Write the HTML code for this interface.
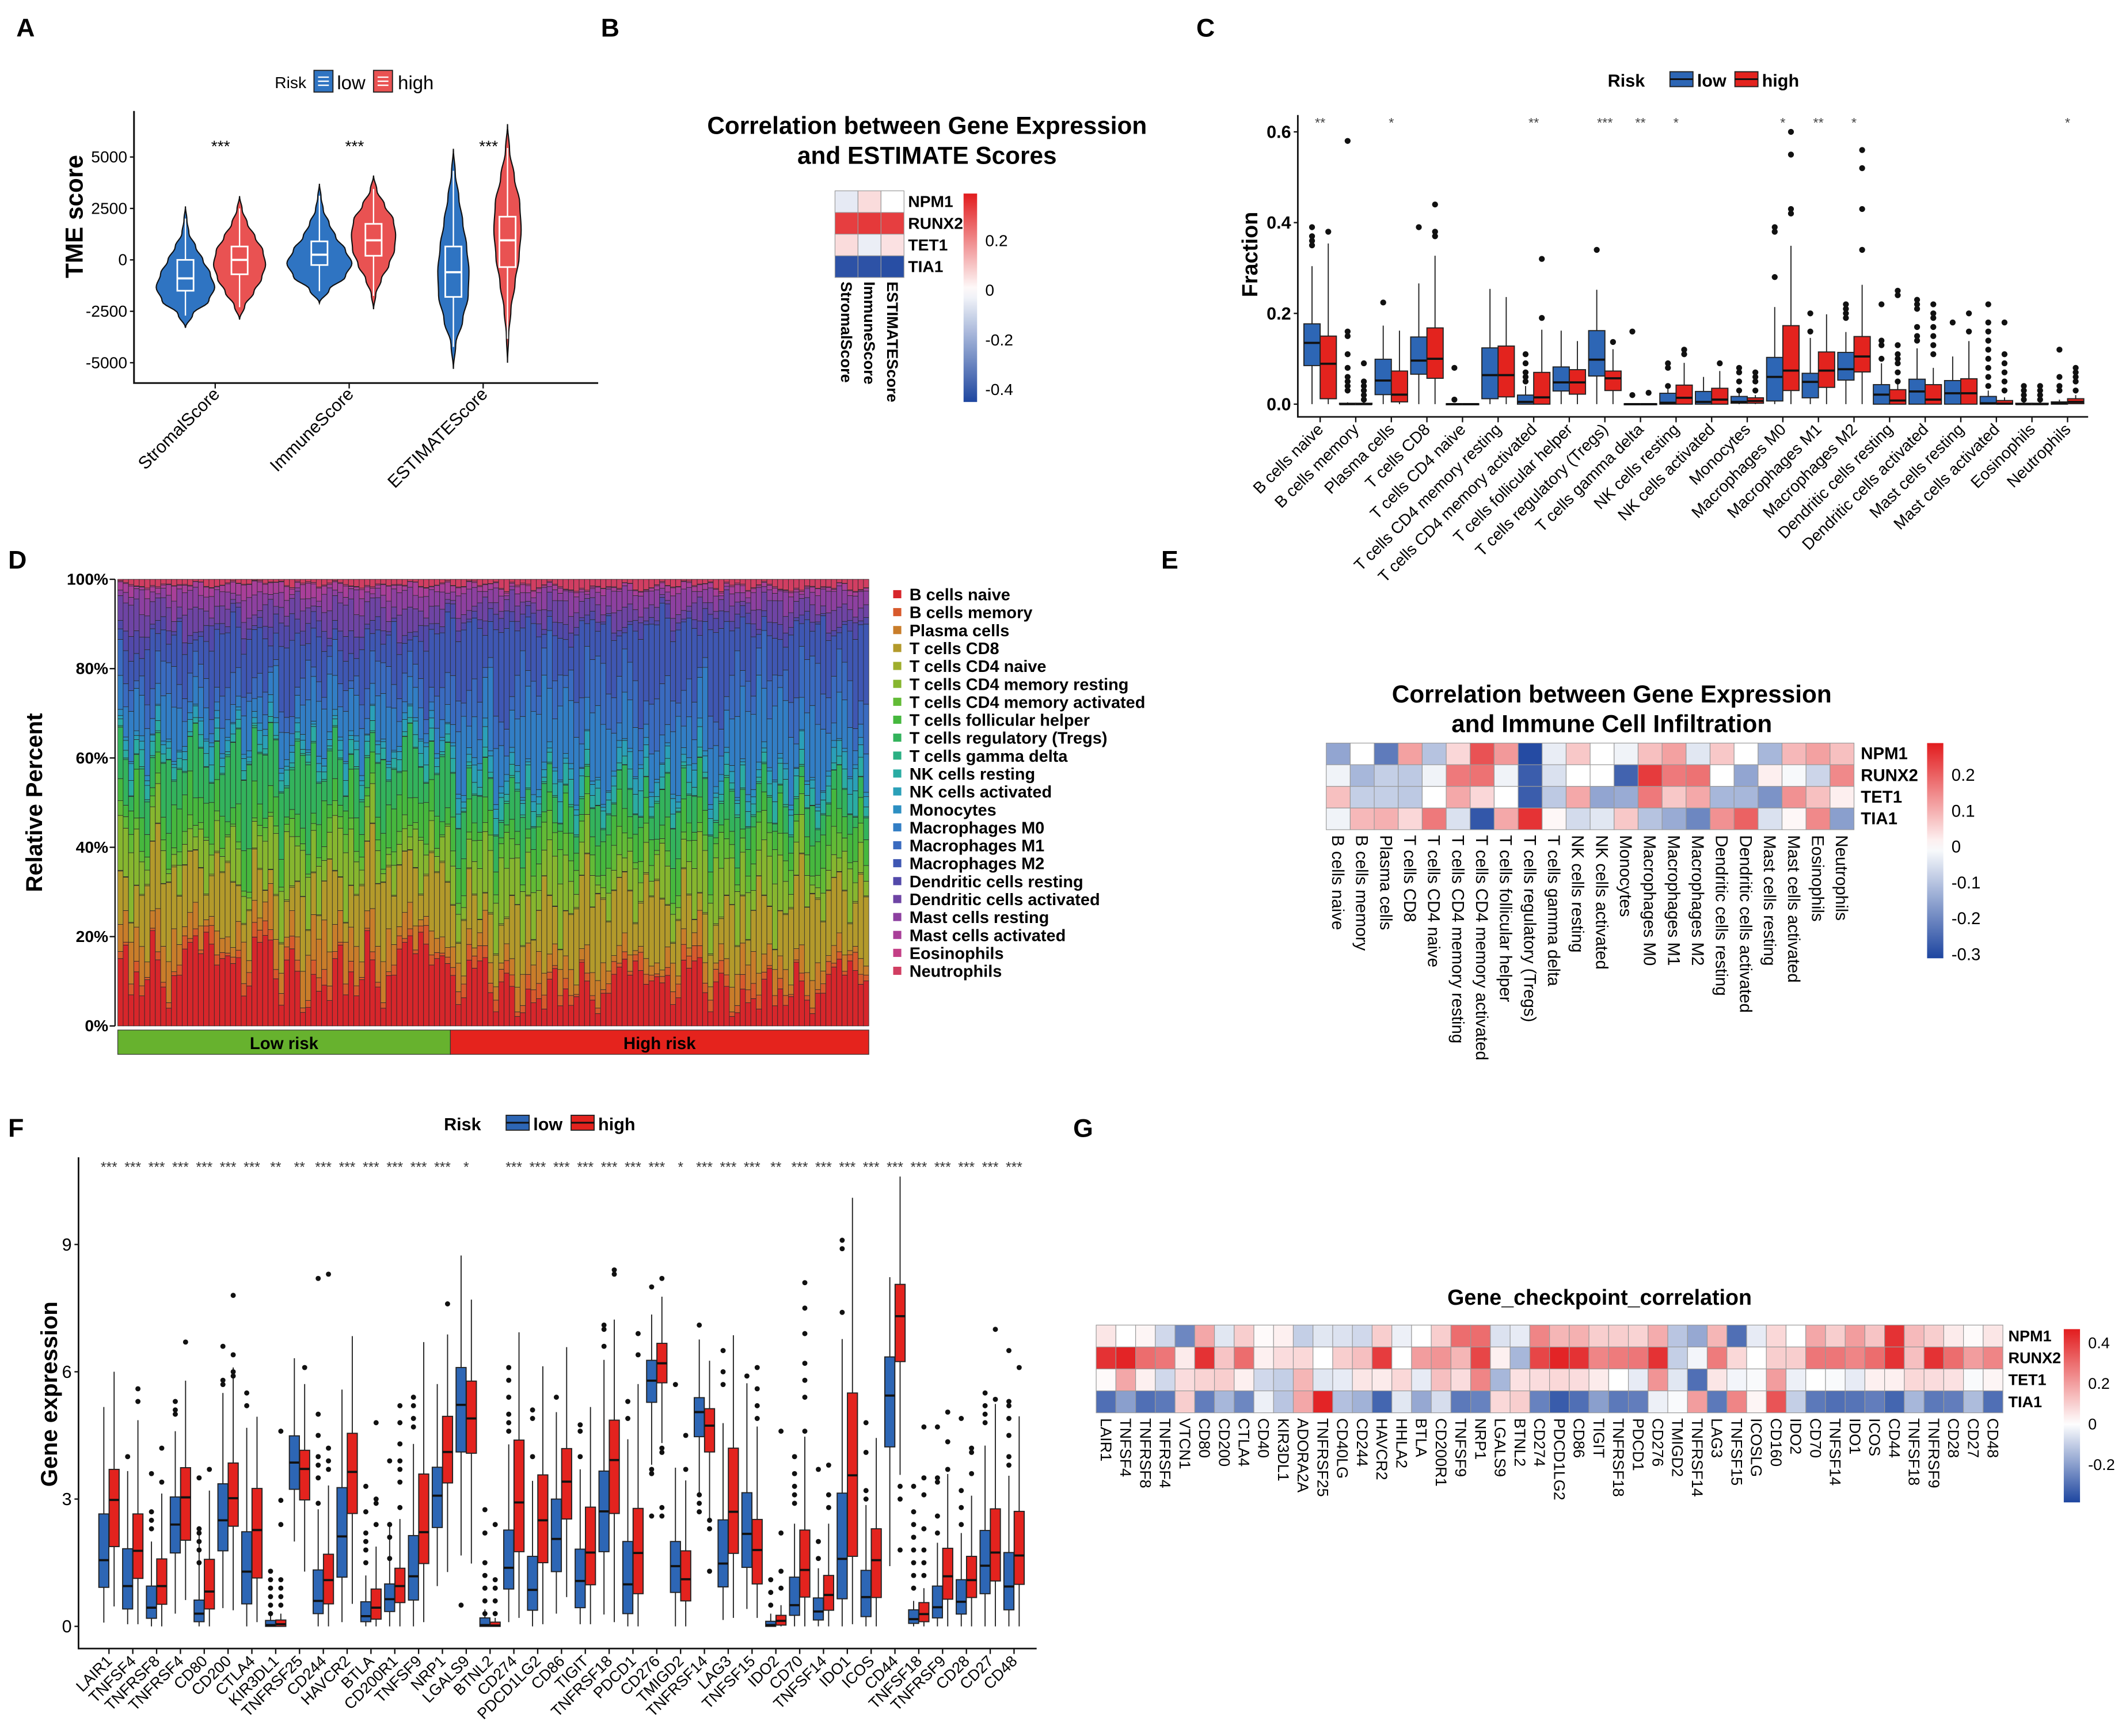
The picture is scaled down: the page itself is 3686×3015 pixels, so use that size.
<!DOCTYPE html>
<html><head><meta charset="utf-8">
<style>
html,body{margin:0;padding:0;background:#fff;}
svg{display:block;font-family:"Liberation Sans",Arial,sans-serif;}
</style></head>
<body>
<svg id="fig" xmlns="http://www.w3.org/2000/svg" width="3686" height="3015" viewBox="0 0 1568 1282.6">
<rect x="0" y="0" width="1568" height="1282.6" fill="#fff"/>
<text x="12" y="27" font-size="19" font-weight="bold">A</text>
<text x="444" y="27" font-size="19" font-weight="bold">B</text>
<text x="884" y="27" font-size="19" font-weight="bold">C</text>
<text x="6" y="420" font-size="19" font-weight="bold">D</text>
<text x="858" y="420" font-size="19" font-weight="bold">E</text>
<text x="6" y="840" font-size="19" font-weight="bold">F</text>
<text x="793" y="840" font-size="19" font-weight="bold">G</text>
<text x="685" y="99" font-size="18" font-weight="bold" text-anchor="middle">Correlation between Gene Expression</text>
<text x="685" y="121" font-size="18" font-weight="bold" text-anchor="middle">and ESTIMATE Scores</text>
<text x="1191" y="519" font-size="18" font-weight="bold" text-anchor="middle">Correlation between Gene Expression</text>
<text x="1191" y="541" font-size="18" font-weight="bold" text-anchor="middle">and Immune Cell Infiltration</text>
<text x="1182" y="964" font-size="16" font-weight="bold" text-anchor="middle">Gene_checkpoint_correlation</text>
<text transform="translate(61,160) rotate(-90)" font-size="18" font-weight="bold" text-anchor="middle">TME score</text>
<text transform="translate(929,188) rotate(-90)" font-size="16" font-weight="bold" text-anchor="middle">Fraction</text>
<text transform="translate(31,593) rotate(-90)" font-size="17" font-weight="bold" text-anchor="middle">Relative Percent</text>
<text transform="translate(42,1030) rotate(-90)" font-size="17" font-weight="bold" text-anchor="middle">Gene expression</text>
</svg>
<script>
// ---------------- DATA ----------------
// Panel A
const aCats=["StromalScore","ImmuneScore","ESTIMATEScore"];
const aLowBox=[[-1500,-900,0],[-250,250,900],[-1800,-600,650]];
const aHighBox=[[-700,0,650],[200,950,1750],[-350,950,2100]];
const aLowRange=[[-3300,2600],[-2100,3700],[-5300,5400]];
const aHighRange=[[-2900,3100],[-2400,4100],[-5000,6600]];
const aLowDens=[[0,0.25,0.8,1.0,0.85,0.6,0.35,0.12,0.05,0],[0,0.3,0.8,1.0,0.8,0.5,0.3,0.12,0.05,0],[0,0.15,0.6,0.95,1.0,0.85,0.6,0.35,0.12,0]];
const aHighDens=[[0,0.2,0.55,0.85,1.0,0.9,0.6,0.3,0.1,0],[0,0.1,0.35,0.7,0.95,1.0,0.9,0.5,0.15,0],[0,0.08,0.25,0.55,0.85,1.0,0.9,0.5,0.15,0]];
const aLowPeak=[0.9,1.0,0.48];
const aHighPeak=[0.8,0.68,0.42];
const aSig=["***","***","***"];
const aTicks=[5000,2500,0,-2500,-5000];

// Panel B
const bRows=["NPM1","RUNX2","TET1","TIA1"];
const bCols=["StromalScore","ImmuneScore","ESTIMATEScore"];
const bVals=[[-0.05,0.06,0.0],[0.33,0.34,0.33],[0.06,-0.04,0.05],[-0.42,-0.42,-0.43]];
const bTicks=[0.2,0,-0.2,-0.4];

// Panel C
const cCats=["B cells naive","B cells memory","Plasma cells","T cells CD8","T cells CD4 naive","T cells CD4 memory resting","T cells CD4 memory activated","T cells follicular helper","T cells regulatory (Tregs)","T cells gamma delta","NK cells resting","NK cells activated","Monocytes","Macrophages M0","Macrophages M1","Macrophages M2","Dendritic cells resting","Dendritic cells activated","Mast cells resting","Mast cells activated","Eosinophils","Neutrophils"];
const cLow=[[0.085,0.135,0.177,0,0.304],[0,0,0.002,0,0.004],[0.021,0.052,0.099,0,0.173],[0.066,0.096,0.148,0,0.266],[0,0,0.001,0,0.002],[0.012,0.064,0.124,0,0.254],[0,0.005,0.02,0,0.04],[0.029,0.048,0.082,0,0.162],[0.062,0.098,0.162,0,0.252],[0,0,0.001,0,0.002],[0,0.003,0.024,0,0.035],[0,0.005,0.028,0,0.06],[0.002,0.005,0.017,0,0.025],[0.007,0.06,0.103,0,0.214],[0.014,0.049,0.068,0,0.146],[0.053,0.077,0.114,0,0.159],[0,0.021,0.043,0,0.09],[0,0.028,0.055,0,0.123],[0,0.024,0.052,0,0.105],[0,0.002,0.017,0,0.03],[0,0,0.002,0,0.004],[0,0.002,0.005,0,0.01]];
const cHigh=[[0.012,0.089,0.150,0,0.354],[0,0,0.002,0,0.004],[0.005,0.021,0.073,0,0.162],[0.057,0.100,0.168,0,0.327],[0,0,0.001,0,0.002],[0.016,0.064,0.128,0,0.236],[0,0.015,0.07,0,0.164],[0.022,0.048,0.076,0,0.139],[0.03,0.057,0.073,0,0.121],[0,0,0.001,0,0.002],[0,0.014,0.042,0,0.091],[0,0.01,0.035,0,0.073],[0.002,0.007,0.014,0,0.02],[0.03,0.074,0.173,0,0.349],[0.037,0.074,0.115,0,0.198],[0.071,0.105,0.149,0,0.263],[0,0.008,0.032,0,0.045],[0,0.01,0.043,0,0.08],[0,0.024,0.056,0,0.139],[0,0.001,0.008,0,0.015],[0,0,0.002,0,0.004],[0.001,0.005,0.012,0,0.02]];
const cLowOut=[[0.35,0.36,0.37,0.39],[0.58,0.16,0.15,0.11,0.08,0.06,0.05,0.04,0.03],[0.224],[0.39],[0.08,0.01],[],[0.05,0.06,0.07,0.09,0.11],[],[0.34],[0.16,0.02],[0.04,0.08,0.09],[],[0.03,0.05,0.07,0.08],[0.28,0.38,0.39],[0.16,0.2],[0.19,0.2,0.21,0.22],[0.1,0.13,0.14,0.22],[0.14,0.15,0.17,0.21,0.22,0.23],[0.18],[0.04,0.06,0.08,0.1,0.12,0.14,0.16,0.18,0.22],[0.01,0.02,0.03,0.04],[0.03,0.04,0.06,0.12]];
const cHighOut=[[0.38],[0.09,0.05,0.04,0.03,0.02,0.01],[],[0.37,0.38,0.44],[],[],[0.19,0.32],[],[0.137],[0.025],[0.11,0.12],[0.09],[0.03,0.05,0.06,0.07],[0.42,0.43,0.55,0.6],[],[0.34,0.43,0.52,0.56],[0.05,0.07,0.09,0.1,0.11,0.13,0.24,0.25],[0.11,0.13,0.15,0.17,0.19,0.2,0.22],[0.16,0.2],[0.03,0.05,0.07,0.09,0.11,0.18],[0.01,0.02,0.03,0.04],[0.03,0.05,0.06,0.07,0.08]];
const cSig=["**","","*","","","","**","","***","**","*","","","*","**","*","","","","","","*"];
const cTicks=[0,0.2,0.4,0.6];
const cTickLabels=["0.0","0.2","0.4","0.6"];

// Panel D
const dLowMean=[0.13,0.02,0.06,0.11,0.002,0.08,0.02,0.06,0.11,0.003,0.02,0.02,0.01,0.07,0.05,0.09,0.03,0.04,0.03,0.02,0.002,0.01];
const dHighMean=[0.09,0.02,0.04,0.12,0.002,0.08,0.04,0.05,0.06,0.003,0.03,0.025,0.01,0.11,0.08,0.12,0.02,0.03,0.03,0.01,0.002,0.015];
const dLowN=62;
const dHighN=78;
const dVar=[0.3,-0.6,0.9,-0.2,0.5,-0.9,0.1,0.7,-0.4,0.2,-0.8,0.6,-0.1,0.4,-0.7,0.8,-0.3,0.0,0.95,-0.5,0.35,-0.15,0.65,-0.85,0.15,0.55,-0.45,0.25,-0.65,0.75,-0.25,0.05,0.85,-0.75,0.45,-0.35,0.6,-0.05,-0.95,0.2];
const dTicks=[0,0.2,0.4,0.6,0.8,1];
const dTickLabels=["0%","20%","40%","60%","80%","100%"];

// Panel E
const eRows=["NPM1","RUNX2","TET1","TIA1"];
const eVals=[
[-0.15,0,-0.22,0.12,-0.1,0.05,0.22,0.13,-0.3,-0.03,0.07,0,-0.02,0.08,0.12,-0.04,0.07,0,-0.12,0.09,0.12,0.08],
[-0.02,-0.12,-0.08,-0.09,-0.02,0.17,0.18,-0.02,-0.27,-0.05,0,0,-0.26,0.25,0.17,0.18,0,-0.15,0.02,-0.01,-0.07,0.15],
[0.08,-0.08,-0.08,-0.09,0,0.11,0.05,0,-0.27,-0.09,0.11,-0.15,-0.14,0.17,0.07,0.11,-0.12,-0.12,-0.18,0.14,0.08,0.02],
[-0.02,0.09,0.1,0.05,0.17,-0.05,-0.28,0.11,0.26,0.01,-0.06,-0.04,0.07,-0.1,-0.14,-0.2,0.14,0.2,-0.05,0.01,0.15,-0.16]];
const eTicks=[0.2,0.1,0,-0.1,-0.2,-0.3];

// Panel F
const fGenes=["LAIR1","TNFSF4","TNFRSF8","TNFRSF4","CD80","CD200","CTLA4","KIR3DL1","TNFRSF25","CD244","HAVCR2","BTLA","CD200R1","TNFSF9","NRP1","LGALS9","BTNL2","CD274","PDCD1LG2","CD86","TIGIT","TNFRSF18","PDCD1","CD276","TMIGD2","TNFRSF14","LAG3","TNFSF15","IDO2","CD70","TNFSF14","IDO1","ICOS","CD44","TNFSF18","TNFRSF9","CD28","CD27","CD48"];
const fLow=[[0.92,1.56,2.65,0.09,5.17],[0.41,0.95,1.83,0.05,3.66],[0.19,0.44,0.95,0,2.0],[1.73,2.4,3.05,0.3,4.6],[0.11,0.3,0.62,0,2.27],[1.78,2.5,3.36,0.43,5.5],[0.53,1.29,2.23,0,4.68],[0,0.03,0.14,0,0.3],[3.23,3.86,4.49,2.0,6.32],[0.3,0.6,1.33,0,2.76],[1.16,2.12,3.27,0.1,5.58],[0.11,0.24,0.58,0,1.2],[0.35,0.64,1.0,0,2.46],[0.62,1.18,2.14,0,4.3],[2.33,3.08,3.75,0.95,5.71],[4.11,5.22,6.1,1.67,8.74],[0,0.03,0.2,0,0.4],[0.88,1.38,2.27,0.1,4.29],[0.38,0.86,1.65,0,3.43],[1.29,2.06,3.0,0.3,5.05],[0.44,1.07,1.82,0.05,3.7],[1.76,2.71,3.66,0.28,6.28],[0.3,0.99,2.0,0,4.41],[5.28,5.79,6.27,3.81,7.35],[0.8,1.42,2.0,0,3.74],[4.47,5.05,5.39,3.1,6.76],[0.93,1.48,2.51,0.15,4.79],[1.39,2.18,3.15,0.41,5.73],[0,0.03,0.12,0,0.3],[0.26,0.5,1.16,0,2.42],[0.15,0.35,0.67,0,1.37],[0.65,1.59,3.14,0,6.77],[0.23,0.69,1.32,0,2.86],[4.23,5.44,6.35,1.42,8.23],[0.07,0.17,0.39,0,0.6],[0.2,0.45,0.95,0,1.97],[0.29,0.58,1.1,0,2.2],[0.77,1.43,2.26,0,4.26],[0.39,0.94,1.74,0,3.55]];
const fHigh=[[1.88,2.98,3.7,0.47,6.0],[1.13,1.78,2.65,0.05,4.86],[0.52,0.95,1.59,0,3.13],[2.03,3.04,3.74,0.62,5.79],[0.41,0.82,1.58,0,3.2],[2.36,3.02,3.85,0.38,6.1],[1.14,2.27,3.25,0.1,4.94],[0,0.05,0.15,0,0.3],[2.98,3.71,4.15,1.29,5.71],[0.53,1.09,1.7,0,3.32],[2.66,3.64,4.55,0.53,6.84],[0.17,0.44,0.88,0,1.88],[0.56,0.95,1.37,0,2.53],[1.48,2.22,3.59,0.1,6.7],[3.38,4.11,4.95,1.28,6.88],[4.08,4.9,5.78,1.48,7.7],[0,0.02,0.1,0,0.2],[1.76,2.92,4.39,0.2,6.93],[1.5,2.5,3.57,0.05,6.13],[2.53,3.41,4.19,0.69,6.58],[0.98,1.74,2.81,0.05,5.17],[2.66,3.92,4.86,0.1,7.23],[0.77,1.73,2.78,0,5.71],[5.74,6.2,6.67,4.32,7.77],[0.6,1.11,1.78,0,3.44],[4.11,4.73,5.13,2.53,6.26],[1.72,2.7,4.2,0.2,6.86],[1.0,1.8,2.52,0.2,4.71],[0.03,0.13,0.26,0,0.5],[0.69,1.33,2.27,0,4.47],[0.38,0.74,1.2,0,2.42],[1.65,3.56,5.5,0.05,10.1],[0.68,1.56,2.3,0,4.44],[6.24,7.31,8.06,3.57,10.6],[0.11,0.29,0.56,0,0.9],[0.64,1.18,1.84,0,3.59],[0.68,1.09,1.65,0,3.08],[1.07,1.74,2.77,0,5.24],[0.99,1.67,2.71,0,4.95]];
const fLowOut=[[],[4.0],[2.3,2.5,2.7,3.6],[5.0,5.1,5.3],[1.5,1.8,2.0,2.2,2.3,3.5],[5.7,5.8,6.6],[5.2,5.5],[0.3,0.5,0.7,0.9,1.1,1.3],[],[2.9,3.5,3.8,4.0,4.5,5.0,8.2],[],[1.5,1.8,2.0,2.2,2.7,3.3],[1.6,2.1,2.4,3.9],[4.7,4.9,5.2,5.4],[],[0.5],[0.3,0.6,0.9,1.2,1.5,2.2,2.75],[4.6,4.8,5.0,5.4,5.8,6.1],[4.0,4.9,5.1],[5.4],[4.0,4.6,4.75],[6.6,7.0,7.1],[4.9,5.3],[2.6,3.6,3.7,8.0],[5.7],[2.7,2.9,3.1,7.1],[5.7,6.0,6.5],[5.9],[0.5,0.8,1.1],[2.9,3.1,3.3,3.6,4.0],[1.6,2.0,3.7],[7.4,8.9,9.1],[3.0,3.2,4.1,4.8],[],[0.9,1.2,1.5,1.8,2.1,2.4,2.7,3.3],[2.2,2.6,3.4,3.5,4.7],[2.4,2.8,3.2,4.9],[4.8,5.0,5.2,5.5],[3.8,4.0,4.5,4.9,5.2,5.3,6.5]];
const fHighOut=[[],[5.3,5.6],[3.4,4.2],[6.7],[3.7],[5.9,6.0,6.4,7.8],[],[0.5,0.7,0.9,1.1,2.4,2.97,4.6],[6.1],[3.7,3.9,4.2,8.3],[],[2.4,2.9,3.0,4.8],[2.8,3.4,3.7,3.9,4.3,4.8,5.2],[],[7.6],[],[0.3,0.6,0.9,1.1,2.4],[],[],[],[],[8.3,8.4],[6.4,6.9],[2.6,2.8,4.1,4.2,8.2],[3.7,4.5],[1.3,2.3,2.5],[],[4.9,5.2,5.6,6.1],[0.9,1.3,2.2,4.6],[4.6,5.4,5.8,6.2,6.9,7.5,8.1],[2.8,3.1,3.8],[],[],[1.8,3.0,3.3],[1.2,1.5,1.8,2.3,3.1,3.5,4.7],[3.7,4.35,5.05],[3.6,4.1,4.2],[5.35,7.0],[6.1]];
const fSig=["***","***","***","***","***","***","***","**","**","***","***","***","***","***","***","*","","***","***","***","***","***","***","***","*","***","***","***","**","***","***","***","***","***","***","***","***","***","***"];
const fTicks=[0,3,6,9];

// Panel G
const gRows=["NPM1","RUNX2","TET1","TIA1"];
const gCols=["LAIR1","TNFSF4","TNFRSF8","TNFRSF4","VTCN1","CD80","CD200","CTLA4","CD40","KIR3DL1","ADORA2A","TNFRSF25","CD40LG","CD244","HAVCR2","HHLA2","BTLA","CD200R1","TNFSF9","NRP1","LGALS9","BTNL2","CD274","PDCD1LG2","CD86","TIGIT","TNFRSF18","PDCD1","CD276","TMIGD2","TNFRSF14","LAG3","TNFSF15","ICOSLG","CD160","IDO2","CD70","TNFSF14","IDO1","ICOS","CD44","TNFSF18","TNFRSF9","CD28","CD27","CD48"];
const gVals=[
[0.05,0,0.02,-0.08,-0.25,0.18,-0.05,0.1,0.01,0.03,-0.1,-0.05,-0.06,-0.08,0.1,-0.03,0,0.1,0.3,0.3,-0.06,-0.04,0.25,0.15,0.16,0.1,0.1,0.09,0.17,-0.12,-0.18,0.15,-0.3,-0.04,0.08,0,0.18,0.1,0.2,0.12,0.42,0.14,0.1,0.04,0.01,0.05],
[0.42,0.45,0.3,0.28,0.04,0.42,0.12,0.3,0.03,0.07,0.08,0,0.1,0.13,0.4,0,0.2,0.22,0.15,0.38,0.03,-0.15,0.38,0.45,0.42,0.25,0.27,0.28,0.42,-0.1,-0.02,0.27,0.08,0,0.1,0.1,0.28,0.28,0.25,0.3,0.42,0.13,0.42,0.3,0.2,0.25],
[0.01,0.18,0.03,-0.08,0.07,0.09,0.1,0.03,-0.08,-0.1,0.15,-0.05,-0.04,0.05,0.04,0.08,-0.04,0.13,0.07,0.25,-0.15,0.06,0.07,0.08,0.07,0.04,0,-0.04,0.22,-0.05,-0.3,0.05,-0.02,-0.01,0.2,-0.03,0,-0.01,-0.04,0.03,0.03,0.08,0.07,0.06,-0.01,0.02],
[-0.3,-0.2,-0.3,-0.28,0.1,-0.27,-0.15,-0.25,-0.03,-0.12,0.18,0.45,-0.13,-0.16,-0.32,-0.05,-0.18,-0.07,-0.28,-0.26,0.08,0.1,-0.26,-0.34,-0.3,-0.2,-0.28,-0.27,-0.03,-0.01,0.2,-0.28,0.25,0.02,0.35,-0.1,-0.28,-0.3,-0.29,-0.27,-0.32,-0.15,-0.28,-0.27,-0.14,-0.3]];
const gTicks=[0.4,0.2,0,-0.2];

// ---------------- HELPERS ----------------
const NS="http://www.w3.org/2000/svg";
const svg=document.getElementById('fig');
const BLUE="#2d66b5", RED="#e3231e", VBLUE="#2f74c2", VRED="#e95252";
const dColors=["#d7262b","#d85a2c","#c97d2a","#b39a2b","#9fae2c","#86b62f","#62bb36","#46b83e","#33b35c","#2bb083","#2aaca3","#2aa0b8","#2c8fc2","#327ec5","#3a6bc0","#3f57b3","#5249aa","#6e44a4","#8d40a0","#a93f99","#c43f86","#d13e62"];
function mk(tag,attrs,parent){const e=document.createElementNS(NS,tag);for(const k in attrs)e.setAttribute(k,attrs[k]);(parent||svg).appendChild(e);return e;}
function heat(v,min,max){let r,g,b,t;if(v>=0){t=Math.min(1,v/max);r=255+(226-255)*t;g=255+(28-255)*t;b=255+(30-255)*t;}else{t=Math.min(1,v/min);r=255+(30-255)*t;g=255+(70-255)*t;b=255+(160-255)*t;}return "rgb("+(r|0)+","+(g|0)+","+(b|0)+")";}
function gradient(id,min,max){const defs=mk('defs',{});const lg=mk('linearGradient',{id:id,x1:0,y1:0,x2:0,y2:1},defs);for(let i=0;i<=20;i++){const v=max+(min-max)*i/20;const s=mk('stop',{offset:(i*5)+'%','stop-color':heat(v,min,max)},lg);}}

// ---------------- PANEL A ----------------
(function(){
const g=mk('g',{});
const yA=v=>192-v*0.0152;
const xA=i=>157+i*99;
const ax=mk('path',{d:'M99,82 V283 H442',fill:'none',stroke:'#111','stroke-width':1.3},g);

aTicks.forEach(t=>{const l=mk('line',{x1:96,x2:99,y1:yA(t),y2:yA(t),stroke:'#111'},g);
const tx=mk('text',{x:94,y:yA(t)+4,'font-size':12,'text-anchor':'end'},g);tx.textContent=String(t);});
function violin(cx,range,dens,peak,box,col,name){
 const n=dens.length,pts=[];
 for(let j=0;j<n-1;j++){for(let s=0;s<6;s++){const f=s/6,w=(1-Math.cos(Math.PI*f))/2;const v=range[0]+(j+f)*(range[1]-range[0])/(n-1);pts.push([yA(v),(dens[j]*(1-w)+dens[j+1]*w)*peak*24]);}}
 pts.push([yA(range[1]),0]);
 let d='M'+cx+','+pts[0][0];pts.forEach(p=>d+=' L'+(cx+p[1]).toFixed(2)+','+p[0].toFixed(2));
 for(let k=pts.length-1;k>=0;k--)d+=' L'+(cx-pts[k][1]).toFixed(2)+','+pts[k][0].toFixed(2);d+='Z';
 const p=mk('path',{d:d,fill:col,stroke:'#111','stroke-width':0.9},g);
 const span=range[1]-range[0];
 const wl=mk('line',{x1:cx,x2:cx,y1:yA(range[0]+span*0.1),y2:yA(range[1]-span*0.1),stroke:'#fff','stroke-width':1},g);
 const r=mk('rect',{x:cx-6,y:yA(box[2]),width:12,height:yA(box[0])-yA(box[2]),fill:col,stroke:'#fff','stroke-width':1.2},g);
 const m=mk('line',{x1:cx-6,x2:cx+6,y1:yA(box[1]),y2:yA(box[1]),stroke:'#fff','stroke-width':1.6},g);
}
aCats.forEach((c,i)=>{
 violin(xA(i)-20,aLowRange[i],aLowDens[i],aLowPeak[i],aLowBox[i],VBLUE,'a-low-'+i);
 violin(xA(i)+20,aHighRange[i],aHighDens[i],aHighPeak[i],aHighBox[i],VRED,'a-high-'+i);
 const s=mk('text',{x:xA(i)+6,y:112,'font-size':12,'text-anchor':'middle'},g);s.textContent=aSig[i];
 const t=mk('line',{x1:xA(i)+2,x2:xA(i)+2,y1:283,y2:287,stroke:'#111'},g);
 const l=mk('text',{transform:'translate('+(xA(i)+6)+',292) rotate(-45)','font-size':13,'text-anchor':'end'},g);l.textContent=c;
});
const lt=mk('text',{x:203,y:65,'font-size':12},g);lt.textContent='Risk';
[[232,VBLUE,'low',249],[276,VRED,'high',294]].forEach(e=>{
 const r=mk('rect',{x:e[0],y:52,width:14,height:16,fill:e[1],stroke:'#222','stroke-width':0.8},g);
 const ln=mk('path',{d:'M'+(e[0]+3)+',57 h8 M'+(e[0]+3)+',60 h8 M'+(e[0]+3)+',63 h8',stroke:'#fff','stroke-width':1},g);
 const t=mk('text',{x:e[3],y:66,'font-size':14},g);t.textContent=e[2];
});
})();

// ---------------- PANEL B ----------------
(function(){
const g=mk('g',{});
const x0=617,y0=141,cw=17,rh=16,min=-0.45,max=0.39;
bVals.forEach((row,r)=>row.forEach((v,c)=>{const e=mk('rect',{x:x0+c*cw,y:y0+r*rh,width:cw,height:rh,fill:heat(v,min,max),stroke:'#999','stroke-width':0.5},g);}));
bRows.forEach((n,r)=>{const t=mk('text',{x:x0+3*cw+3,y:y0+r*rh+12,'font-size':12,'font-weight':'bold'},g);t.textContent=n;});
bCols.forEach((n,c)=>{const t=mk('text',{transform:'translate('+(x0+c*cw+cw/2-4)+','+(y0+4*rh+3)+') rotate(90)','font-size':11.5,'font-weight':'bold'},g);t.textContent=n;});
gradient('gb',min,max);
const cb=mk('rect',{x:712,y:143,width:10,height:154,fill:'url(#gb)'},g);
const yb=v=>143+(max-v)/(max-min)*154;
bTicks.forEach(t=>{const tx=mk('text',{x:728,y:yb(t)+4,'font-size':12},g);tx.textContent=String(t);});
})();

// ---------------- BOX HELPER ----------------
function drawBox(g,cx,w,st,yf,fill,name){
 const wl=mk('line',{x1:cx,x2:cx,y1:yf(st[3]),y2:yf(st[4]),stroke:'#222','stroke-width':0.8},g);
 const r=mk('rect',{x:cx-w/2,y:yf(st[2]),width:w,height:Math.max(0.8,yf(st[0])-yf(st[2])),fill:fill,stroke:'#222','stroke-width':0.8},g);
 const m=mk('line',{x1:cx-w/2,x2:cx+w/2,y1:yf(st[1]),y2:yf(st[1]),stroke:'#111','stroke-width':1.6},g);
}
function drawOut(g,cx,vals,yf,rad,name){vals.forEach(v=>{const c=mk('circle',{cx:cx,cy:yf(v),r:rad,fill:'#111'},g);});}
function legend(g,x,y,pre){
 const lt=mk('text',{x:x,y:y,'font-size':13,'font-weight':'bold'},g);lt.textContent='Risk';
 [[x+46,BLUE,'low',x+66],[x+94,RED,'high',x+114]].forEach(e=>{
  const r=mk('rect',{x:e[0],y:y-11,width:17,height:11,fill:e[1],stroke:'#222','stroke-width':0.8},g);
  const l=mk('line',{x1:e[0],x2:e[0]+17,y1:y-5.5,y2:y-5.5,stroke:'#111','stroke-width':1.3},g);
  const t=mk('text',{x:e[3],y:y,'font-size':13,'font-weight':'bold'},g);t.textContent=e[2];
 });
}

// ---------------- PANEL C ----------------
(function(){
const g=mk('g',{});
const yC=v=>298.6-v*335.3;
const xC=i=>975.5+i*26.3;
const ax=mk('path',{d:'M959,85 V308 H1543',fill:'none',stroke:'#111','stroke-width':1.2},g);
cTicks.forEach((t,i)=>{const l=mk('line',{x1:956,x2:959,y1:yC(t),y2:yC(t),stroke:'#111'},g);
const tx=mk('text',{x:954,y:yC(t)+4.5,'font-size':13,'font-weight':'bold','text-anchor':'end'},g);tx.textContent=cTickLabels[i];});
cCats.forEach((c,i)=>{
 drawBox(g,xC(i)-6,12,cLow[i],yC,BLUE,'c-low-'+i);
 drawBox(g,xC(i)+6,12,cHigh[i],yC,RED,'c-high-'+i);
 drawOut(g,xC(i)-6,cLowOut[i],yC,2.2,'c-low-'+i);
 drawOut(g,xC(i)+6,cHighOut[i],yC,2.2,'c-high-'+i);
 const s=mk('text',{x:xC(i),y:94,'font-size':10,'text-anchor':'middle',fill:'#444'},g);s.textContent=cSig[i];
 const t=mk('line',{x1:xC(i),x2:xC(i),y1:308,y2:312,stroke:'#111'},g);
 const l=mk('text',{transform:'translate('+(xC(i)+3)+',318) rotate(-45)','font-size':12,'text-anchor':'end'},g);l.textContent=c;
});
legend(g,1188,64,'c');
})();

// ---------------- PANEL D ----------------
(function(){
const g=mk('g',{});
const x0=87,x1=642,yT=428,yB=758,N=dLowN+dHighN,bw=(x1-x0)/N;
const yD=f=>yB-f*(yB-yT);
for(let i=0;i<N;i++){
 const mean=i<dLowN?dLowMean:dHighMean;
 const vals=mean.map((m,k)=>m*Math.max(0.05,1+0.8*dVar[(i*7+k*3)%dVar.length]));
 const tot=vals.reduce((a,b)=>a+b,0);
 let acc=0;
 vals.forEach((v,k)=>{const f=v/tot;const r=mk('rect',{x:x0+i*bw,y:yD(acc+f),width:bw,height:f*(yB-yT),fill:dColors[k],stroke:'#2a2a2a','stroke-width':0.35},g);acc+=f;});
}
const ax=mk('line',{x1:x0-2,x2:x0-2,y1:yT,y2:yB,stroke:'#111','stroke-width':1},g);
dTicks.forEach((t,i)=>{const l=mk('line',{x1:x0-6,x2:x0-2,y1:yD(t),y2:yD(t),stroke:'#111'},g);
const tx=mk('text',{x:x0-7,y:yD(t)+4,'font-size':12,'font-weight':'bold','text-anchor':'end'},g);tx.textContent=dTickLabels[i];});
const lo=mk('rect',{x:x0,y:761,width:dLowN*bw,height:18,fill:'#67b22e',stroke:'#333','stroke-width':0.5},g);
const hi=mk('rect',{x:x0+dLowN*bw,y:761,width:dHighN*bw,height:18,fill:'#e5231d',stroke:'#333','stroke-width':0.5},g);
const lt=mk('text',{x:x0+dLowN*bw/2,y:775,'font-size':12.5,'font-weight':'bold','text-anchor':'middle'},g);lt.textContent='Low risk';
const ht=mk('text',{x:x0+dLowN*bw+dHighN*bw/2,y:775,'font-size':12.5,'font-weight':'bold','text-anchor':'middle'},g);ht.textContent='High risk';
cCats.forEach((c,k)=>{const r=mk('rect',{x:660,y:436+k*13.25,width:6,height:6,fill:dColors[k]},g);
const t=mk('text',{x:672,y:443.5+k*13.25,'font-size':12.3,'font-weight':'bold'},g);t.textContent=c;});
})();

// ---------------- PANEL E ----------------
(function(){
const g=mk('g',{});
const x0=980,y0=549,cw=390/22,rh=16,min=-0.31,max=0.29;
eVals.forEach((row,r)=>row.forEach((v,c)=>{const e=mk('rect',{x:x0+c*cw,y:y0+r*rh,width:cw,height:rh,fill:heat(v,min,max),stroke:'#999','stroke-width':0.5},g);}));
eRows.forEach((n,r)=>{const t=mk('text',{x:x0+22*cw+5,y:y0+r*rh+12,'font-size':12.5,'font-weight':'bold'},g);t.textContent=n;});
cCats.forEach((n,c)=>{const t=mk('text',{transform:'translate('+(x0+c*cw+cw/2-4.5)+','+(y0+4*rh+4)+') rotate(90)','font-size':12.5},g);t.textContent=n;});
gradient('ge',min,max);
const cb=mk('rect',{x:1424,y:549,width:12,height:159,fill:'url(#ge)'},g);
const yb=v=>549+(max-v)/(max-min)*159;
eTicks.forEach(t=>{const tx=mk('text',{x:1442,y:yb(t)+4,'font-size':12.5},g);tx.textContent=String(t);});
})();

// ---------------- PANEL F ----------------
(function(){
const g=mk('g',{});
const yF=v=>1201.6-v*31.35;
const xF=i=>80.5+i*17.6;
const ax=mk('path',{d:'M58,855 V1218 H766',fill:'none',stroke:'#111','stroke-width':1.2},g);
fTicks.forEach(t=>{const l=mk('line',{x1:55,x2:58,y1:yF(t),y2:yF(t),stroke:'#111'},g);
const tx=mk('text',{x:53,y:yF(t)+4.5,'font-size':13,'text-anchor':'end'},g);tx.textContent=String(t);});
fGenes.forEach((c,i)=>{
 drawBox(g,xF(i)-3.8,7.4,fLow[i],yF,BLUE,'f-low-'+i);
 drawBox(g,xF(i)+3.8,7.4,fHigh[i],yF,RED,'f-high-'+i);
 drawOut(g,xF(i)-3.8,fLowOut[i],yF,1.9,'f-low-'+i);
 drawOut(g,xF(i)+3.8,fHighOut[i],yF,1.9,'f-high-'+i);
 const s=mk('text',{x:xF(i),y:866,'font-size':10.5,'text-anchor':'middle',fill:'#333'},g);s.textContent=fSig[i];
 const t=mk('line',{x1:xF(i),x2:xF(i),y1:1218,y2:1222,stroke:'#111'},g);
 const l=mk('text',{transform:'translate('+(xF(i)+3)+',1228) rotate(-45)','font-size':11.5,'text-anchor':'end'},g);l.textContent=c;
});
legend(g,328,835,'f');
})();

// ---------------- PANEL G ----------------
(function(){
const g=mk('g',{});
const x0=810,y0=979,cw=670/46,rh=16.2,min=-0.387,max=0.467;
gVals.forEach((row,r)=>row.forEach((v,c)=>{const e=mk('rect',{x:x0+c*cw,y:y0+r*rh,width:cw,height:rh,fill:heat(v,min,max),stroke:'#999','stroke-width':0.5},g);}));
gRows.forEach((n,r)=>{const t=mk('text',{x:x0+46*cw+4,y:y0+r*rh+12,'font-size':11.5,'font-weight':'bold'},g);t.textContent=n;});
gCols.forEach((n,c)=>{const t=mk('text',{transform:'translate('+(x0+c*cw+cw/2-4)+','+(y0+4*rh+4)+') rotate(90)','font-size':11.5},g);t.textContent=n;});
gradient('gg',min,max);
const cb=mk('rect',{x:1525,y:982,width:12,height:128,fill:'url(#gg)'},g);
const yb=v=>982+(max-v)/(max-min)*128;
gTicks.forEach(t=>{const tx=mk('text',{x:1543,y:yb(t)+4,'font-size':11.5},g);tx.textContent=String(t);});
})();
</script>
</body></html>
